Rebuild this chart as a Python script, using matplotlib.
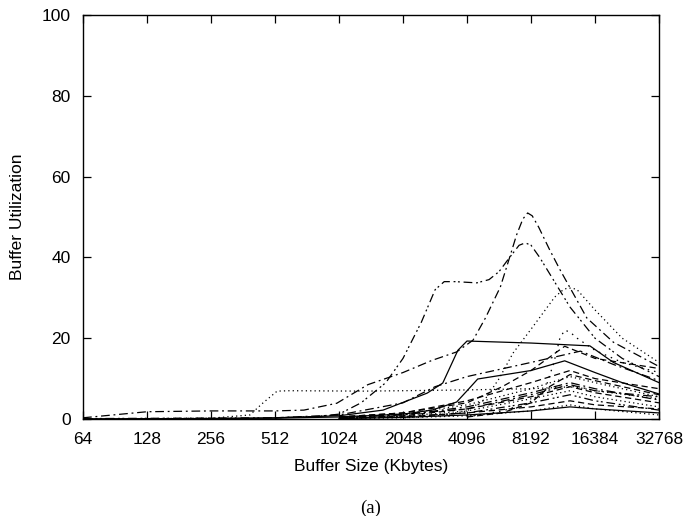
import matplotlib
matplotlib.use("Agg")
import matplotlib.pyplot as plt

plt.rcParams['font.family'] = ['Liberation Sans', 'DejaVu Sans']

# ---- data (buffer size in Kbytes, utilization) ----
xticks_vals = [64, 128, 256, 512, 1024, 2048, 4096, 8192, 16384, 32768]
xtick_labels = ["64", "128", "256", "512", "1024", "2048", "4096", "8192", "16384", "32768"]
yticks_vals = [0, 20, 40, 60, 80, 100]

a_x = [64, 128, 256, 512, 700, 1000, 1400, 2048, 2800, 3660, 4370, 5000, 5880, 6500, 7000, 7500, 7900, 8300, 8900, 10000, 11200, 15000, 20000, 32768]
a_y = [0.3, 1.8, 2.0, 2.0, 2.2, 3.9, 8.5, 11.5, 14.5, 16.6, 19.5, 25, 32.7, 40, 45.5, 49.5, 51, 50.3, 47.5, 42, 37, 25, 19, 13]

b_x = [64, 512, 800, 1024, 1300, 1700, 2048, 2500, 2900, 3200, 3600, 4560, 5200, 5800, 6500, 7200, 7700, 8200, 9000, 12500, 16384, 22000, 32768]
b_y = [0.1, 0.3, 0.6, 1.2, 4, 9, 15, 24, 32, 34, 34, 33.7, 34.5, 36.5, 40, 43, 43.6, 43, 40, 27.7, 20, 15, 10.5]

d_x = [2048, 3000, 4096, 5000, 5800, 6740, 8350, 10600, 11500, 12100, 12800, 13500, 16384, 22000, 32768]
d_y = [0.3, 0.8, 2.0, 5, 10, 16.3, 22.8, 30.2, 31.8, 32.4, 32.4, 32, 27, 20, 14]

e_x = [4096, 6000, 8000, 9500, 10500, 11200, 11800, 12500, 13500, 16384, 22000, 32768]
e_y = [0.5, 2, 4, 7, 14, 20, 22, 21.5, 20, 17, 14, 11.5]

s1_x = [64, 256, 512, 1024, 1650, 2660, 3150, 3710, 4096, 8192, 15500, 20000, 32768]
s1_y = [0, 0.1, 0.3, 0.8, 2.2, 6.4, 8.9, 17, 19.3, 18.8, 18.1, 14, 9]

s2_x = [64, 512, 1024, 2048, 2800, 3660, 4100, 4600, 8192, 11800, 16384, 22000, 32768]
s2_y = [0, 0.2, 0.5, 1.2, 2.2, 4.2, 7, 9.9, 12, 14.4, 11.5, 9, 6.2]

f_x = [64, 256, 390, 450, 524, 600, 1330, 2048, 4096, 8192, 13000, 16384, 32768]
f_y = [0, 0.2, 1, 4, 6.9, 7, 6.9, 7, 7.2, 7.5, 8, 7, 5]

i_x = [512, 1024, 2048, 2900, 4096, 8192, 14000, 20000, 32768]
i_y = [0.3, 1, 4, 8, 10.5, 14, 16.8, 13.5, 9.5]

h_x = [1024, 2048, 4096, 6000, 8192, 11800, 16384, 32768]
h_y = [0.5, 1.5, 4, 8, 12, 18, 15, 12.5]

low_x = [1024, 2048, 4096, 8192, 12500, 16384, 32768]
l1_y = [0.5, 1.5, 4.5, 9, 12, 10, 7.5]
l2_y = [0.4, 1.2, 3.5, 7.5, 10.5, 9, 5.5]
l3_y = [0.3, 1.0, 3.0, 6.5, 9, 7.5, 4.7]
l4_y = [0.3, 0.8, 2.5, 5.5, 8, 6.5, 4]
l5_y = [0.2, 0.7, 2.0, 5, 7, 5.5, 3]
l6_y = [0.2, 0.6, 1.5, 4, 6, 4.5, 2.2]
l7_y = [0.1, 0.4, 1.0, 2, 3, 2.5, 1.5]
l8_y = [0.2, 0.5, 1.5, 3, 4.5, 3.5, 2.5]
l9_y = [0.1, 0.3, 0.8, 2, 3.5, 2.5, 1]
l10_y = [0.3, 1.2, 2.5, 6, 8.5, 7, 5.5]

l11_x = [4096, 6000, 8192, 10000, 12500, 16384, 32768]
l11_y = [0.5, 1.5, 4, 8, 11, 9.5, 6]

# ---- styles ----
dashdot = (0, (7, 3, 1.5, 3))
dashdot2 = (0, (7, 3, 1.5, 2, 1.5, 3))
dashed = (0, (5, 3))
dotted = (0, (1, 2.5))
sparse_dot = (0, (1.2, 4))
solid = '-'

series = [
    (a_x, a_y, dashdot),
    (b_x, b_y, dashdot2),
    (d_x, d_y, dotted),
    (e_x, e_y, sparse_dot),
    (s1_x, s1_y, solid),
    (s2_x, s2_y, solid),
    (f_x, f_y, dotted),
    (i_x, i_y, dashdot),
    (h_x, h_y, dashed),
    (low_x, l1_y, dashed),
    (low_x, l2_y, dotted),
    (low_x, l3_y, dashdot),
    (low_x, l4_y, dashed),
    (low_x, l5_y, dotted),
    (low_x, l6_y, dashdot2),
    (low_x, l7_y, solid),
    (low_x, l8_y, dashed),
    (low_x, l9_y, dotted),
    (low_x, l10_y, dashdot),
    (l11_x, l11_y, dashed),
]

fig = plt.figure(figsize=(6.86, 5.16), dpi=100)
ax = fig.add_axes([83/686, 1 - 419/516, (659 - 83)/686, (419 - 15)/516])

for xs, ys, ls in series:
    ax.plot(xs, ys, color='black', linestyle=ls, linewidth=0.9)

ax.set_xscale('log', base=2)
ax.set_xlim(64, 32768)
ax.set_ylim(0, 100)
ax.set_xticks(xticks_vals)
ax.set_xticklabels(xtick_labels)
ax.set_yticks(yticks_vals)
ax.minorticks_off()
ax.tick_params(direction='in', length=6, width=0.9, top=True, right=True,
               labelsize=12.5, pad=9)
for sp in ax.spines.values():
    sp.set_linewidth(1.0)

fig.text(18/686, 1 - 217/516, "Buffer Utilization", rotation=90,
         ha='center', va='center', fontsize=12.5)
fig.text(371/686, 1 - 467/516, "Buffer Size (Kbytes)",
         ha='center', va='center', fontsize=12.5)
fig.text(371/686, 1 - 508/516, "(a)", ha='center', va='center',
         fontsize=13.5, family=['Liberation Serif', 'DejaVu Serif'])

fig.savefig("out.png", dpi=100)
